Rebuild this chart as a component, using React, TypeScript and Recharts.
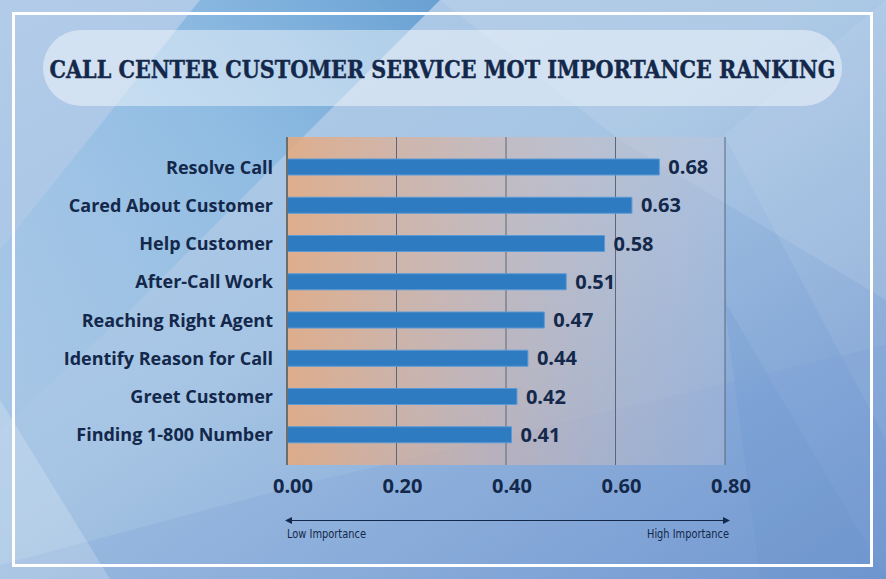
import { BarChart, Bar, XAxis, YAxis, CartesianGrid, LabelList } from 'recharts';

const categories = [
  'Resolve Call',
  'Cared About Customer',
  'Help Customer',
  'After-Call Work',
  'Reaching Right Agent',
  'Identify Reason for Call',
  'Greet Customer',
  'Finding 1-800 Number',
];
const importance = [0.68, 0.63, 0.58, 0.51, 0.47, 0.44, 0.42, 0.41];
const xTicks = [0, 0.2, 0.4, 0.6, 0.8];

const TITLE = 'CALL CENTER CUSTOMER SERVICE MOT IMPORTANCE RANKING';
const NAVY = '#13284a';
const SANS = "'Open Sans', sans-serif";

const data = categories.map((name, i) => ({ name, value: importance[i] }));

function Backdrop() {
  return (
    <svg width={886} height={579} style={{ position: 'absolute', left: 0, top: 0 }}>
      <defs>
        <linearGradient id="bgBase" x1="0" y1="0" x2="1" y2="1">
          <stop offset="0%" stopColor="#b2cbe9" />
          <stop offset="45%" stopColor="#a6c5e4" />
          <stop offset="100%" stopColor="#6f95ce" />
        </linearGradient>
        <linearGradient id="stripe" x1="0" y1="1" x2="1" y2="0">
          <stop offset="0%" stopColor="#8cc0e6" stopOpacity={0.1} />
          <stop offset="60%" stopColor="#5fa8dc" stopOpacity={0.6} />
          <stop offset="100%" stopColor="#2f7fc2" stopOpacity={0.9} />
        </linearGradient>
      </defs>
      <rect x={0} y={0} width={886} height={579} fill="url(#bgBase)" />
      {/* diagonal decorative shapes */}
      <polygon points="200,0 440,0 300,140 130,310 0,430 0,250" fill="url(#stripe)" opacity={0.6} />
      <polygon points="440,0 886,0 886,300 620,140" fill="#ffffff" opacity={0.1} />
      <polygon points="886,0 724,135 886,440" fill="#ffffff" opacity={0.08} />
      <polygon points="0,579 0,565 300,485 886,345 886,579" fill="#7ba0d6" opacity={0.25} />
      <polygon points="0,400 0,579 110,579" fill="#ffffff" opacity={0.2} />
      <polygon points="724,300 870,550 886,579 760,579" fill="#5d8cc8" opacity={0.15} />
      {/* white frame */}
      <rect x={13.5} y={13.5} width={858} height={552} fill="none" stroke="#ffffff" strokeWidth={3} />
      {/* title pill */}
      <rect x={43} y={30} width={799} height={76} rx={38} fill="#ffffff" opacity={0.45} />
      <text
        x={442.5}
        y={77.5}
        textAnchor="middle"
        textLength={786}
        lengthAdjust="spacingAndGlyphs"
        fontFamily="'DejaVu Serif Condensed', 'DejaVu Serif', serif"
        fontWeight="bold"
        fontSize={25}
        stroke={NAVY}
        strokeWidth={0.4}
        fill={NAVY}
      >
        {TITLE}
      </text>
      {/* importance arrow */}
      <line x1={290} y1={520.5} x2={726} y2={520.5} stroke={NAVY} strokeWidth={1.2} />
      <polygon points="285,520.5 292,517 292,524" fill={NAVY} />
      <polygon points="730,520.5 723,517 723,524" fill={NAVY} />
      <text x={287} y={538} fontFamily="'DejaVu Sans Condensed', 'DejaVu Sans', sans-serif" fontSize={12} textLength={79} lengthAdjust="spacingAndGlyphs" fill={NAVY}>
        Low Importance
      </text>
      <text x={647} y={538} fontFamily="'DejaVu Sans Condensed', 'DejaVu Sans', sans-serif" fontSize={12} textLength={82} lengthAdjust="spacingAndGlyphs" fill={NAVY}>
        High Importance
      </text>
    </svg>
  );
}

export default function App() {
  return (
    <div style={{ position: 'absolute', left: 0, top: 0, width: 886, height: 579, overflow: 'hidden' }}>
      <Backdrop />
      <div style={{ position: 'absolute', left: 0, top: 0 }}>
        <BarChart
          width={886}
          height={579}
          data={data}
          layout="vertical"
          margin={{ top: 137, right: 161, bottom: 74, left: 0 }}
        >
          <defs>
            <linearGradient id="plotBg" x1="0" y1="0" x2="1" y2="0">
              <stop offset="0%" stopColor="#e8a97c" stopOpacity={0.85} />
              <stop offset="50%" stopColor="#d8b4a8" stopOpacity={0.55} />
              <stop offset="100%" stopColor="#c8c8d8" stopOpacity={0.3} />
            </linearGradient>
          </defs>
          <CartesianGrid
            horizontal={false}
            stroke="#5d6677"
            strokeWidth={1}
            fill="url(#plotBg)"
            fillOpacity={1}
          />
          <XAxis
            type="number"
            domain={[0, 0.8]}
            ticks={xTicks}
            axisLine={false}
            tickLine={false}
            tickMargin={8}
            height={40}
            tickFormatter={(v: number) => v.toFixed(2)}
            tick={{ fill: NAVY, fontSize: 20, fontWeight: 'bold', fontFamily: SANS, dx: 6 }}
          />
          <YAxis
            type="category"
            dataKey="name"
            width={287}
            axisLine={{ stroke: '#6d6d6d', strokeWidth: 2 }}
            tickLine={false}
            tickMargin={8}
            padding={{ top: 11, bottom: 11 }}
            tick={{ fill: NAVY, fontSize: 18, fontWeight: 'bold', fontFamily: SANS }}
          />
          <Bar dataKey="value" fill="#2e7bc1" stroke="#5a9ad6" strokeWidth={1} barSize={16} isAnimationActive={false}>
            <LabelList
              dataKey="value"
              position="right"
              offset={9}
              formatter={(v: number) => v.toFixed(2)}
              style={{ fill: NAVY, fontSize: 20, fontWeight: 'bold', fontFamily: SANS }}
            />
          </Bar>
        </BarChart>
      </div>
    </div>
  );
}
